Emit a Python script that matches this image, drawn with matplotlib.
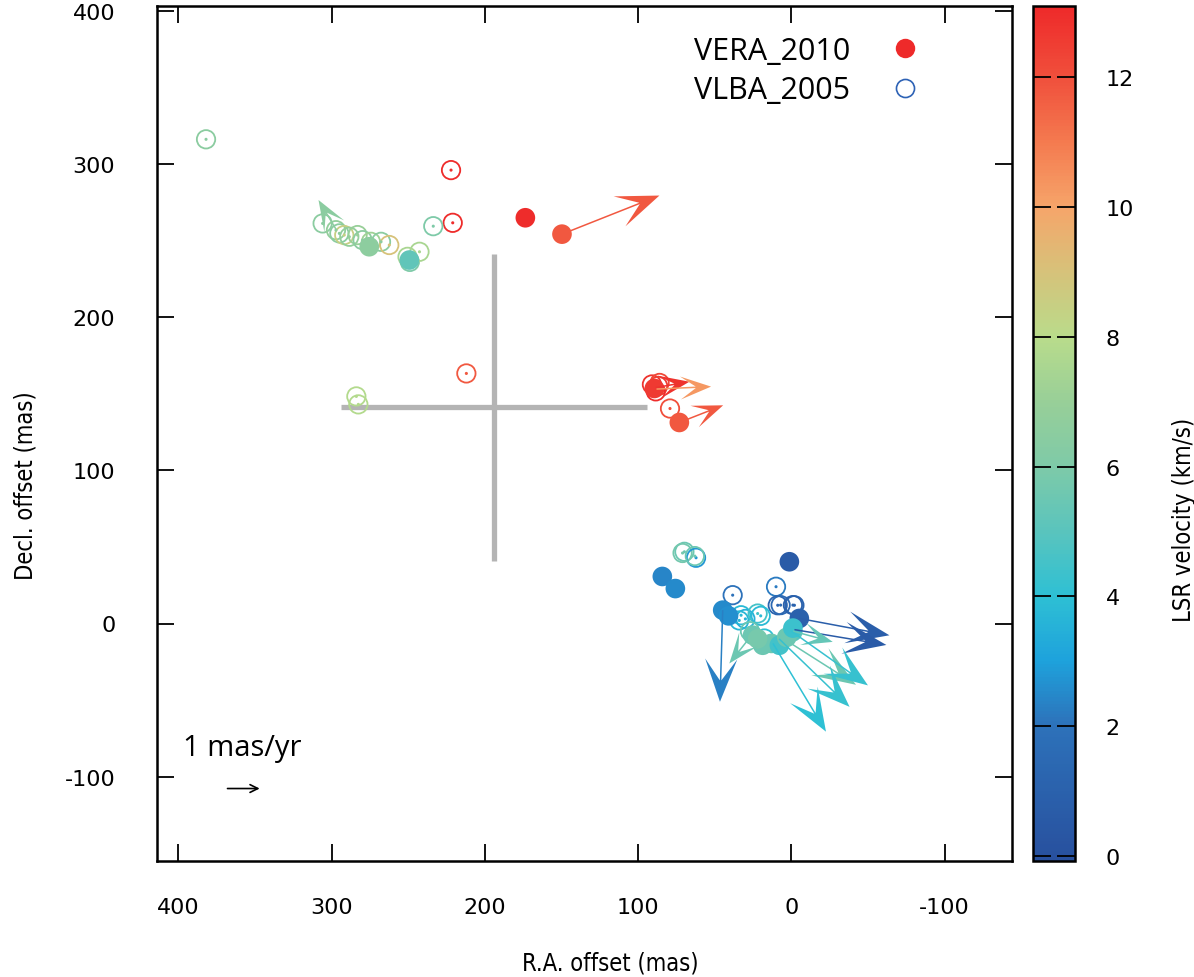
import numpy as np
import matplotlib
matplotlib.use("Agg")
import matplotlib.pyplot as plt
from matplotlib.colors import LinearSegmentedColormap, Normalize
from matplotlib.cm import ScalarMappable
from matplotlib.lines import Line2D

plt.rcParams["axes.unicode_minus"] = False

# VERA 2010 spots (filled): R.A. offset, Decl. offset (mas), LSR velocity (km/s)
vera_ra = [173.6, 149.7, 275.5, 249.3, 89.4, 73.1, 1.3, 84.2, 75.7, 44.8, 41.0,
           -5.2, 25.3, 18.7, 13.0, 7.8, -0.9, 3.0, 22.0, -1.0]
vera_dec = [264.8, 254.1, 245.9, 237.2, 153.4, 131.2, 40.3, 30.7, 22.8, 8.7, 5.0,
            3.3, -7.6, -14.2, -13.0, -14.2, -5.4, -9.0, -10.0, -3.0]
vera_v = [13.0, 11.8, 6.6, 5.2, 12.6, 11.8, 0.6, 2.4, 2.5, 2.5, 2.6,
          1.0, 5.5, 5.5, 5.5, 4.5, 5.0, 5.5, 5.8, 4.3]

# VLBA 2005 spots (open)
vlba_ra = [382.0, 222.1, 221.0, 233.7, 305.9, 297.2, 295.0, 291.8, 288.5, 283.1,
           279.8, 274.4, 267.8, 262.4, 250.5, 249.0, 242.7, 212.1, 283.9, 282.6,
           91.0, 87.0, 86.0, 88.5, 79.2, 69.8, 71.0, 62.2, 63.0, 38.3,
           10.0, 8.9, 7.0, -2.0, -1.0, 32.8, 30.0, 34.0, 22.0, 20.0, 17.6, 27.0]
vlba_dec = [316.0, 295.9, 261.5, 259.3, 261.1, 256.7, 254.6, 253.5, 252.4, 253.5,
            250.2, 249.1, 249.1, 247.0, 239.3, 236.0, 242.6, 163.2, 148.2, 143.0,
            156.0, 155.0, 157.0, 151.5, 140.3, 46.8, 46.0, 42.9, 44.0, 18.5,
            24.0, 11.9, 12.0, 11.9, 12.0, 5.4, 3.0, 2.0, 6.5, 5.0, -9.8, -5.0]
vlba_v = [6.5, 13.0, 13.0, 6.0, 6.5, 6.8, 6.5, 8.5, 6.8, 7.0,
          6.5, 7.2, 6.5, 9.0, 7.5, 6.0, 7.5, 11.8, 7.8, 7.8,
          12.8, 12.5, 12.2, 13.0, 12.0, 5.5, 5.7, 2.8, 5.5, 2.0,
          2.2, 1.2, 1.5, 1.2, 1.0, 3.8, 3.5, 3.7, 4.5, 3.8, 4.0, 5.5]

# proper motions: start position (mas), motion (mas/yr), velocity
pm_ra = [297.0, 149.7, 88.5, 88.0, 73.1, -5.2, -2.0, 44.8, 28.5, -1.0, 5.0, 0.0, 8.0, 12.0]
pm_dec = [257.0, 254.1, 154.0, 153.0, 131.2, 3.3, -4.0, 8.7, -10.9, -5.0, -10.0, -5.0, -10.0, -13.0]
pm_dra = [0.58, -3.18, -1.10, -1.78, -1.43, -2.94, -3.00, 0.09, 0.60, -1.30, -2.36, -2.50, -2.30, -1.73]
pm_ddec = [0.97, 1.26, 0.19, 0.08, 0.56, -0.55, -0.50, -2.99, -0.76, -0.35, -1.50, -1.77, -2.22, -2.88]
pm_v = [6.5, 11.8, 12.8, 10.3, 11.8, 0.8, 0.6, 2.3, 5.5, 5.3, 5.5, 4.2, 4.2, 4.0]

pm_scale = 20.0  # mas per (mas/yr)

# colour map (value, colour)
cmap_v = [0.0, 2.0, 3.0, 4.0, 5.0, 6.0, 7.0, 8.0, 9.0, 10.0, 11.0, 12.0, 13.1]
cmap_c = ["#28509e", "#2d72ba", "#1ea2dc", "#2ec0d4", "#5ac4bd", "#7ecaa8",
          "#98cf98", "#b9dc8b", "#d6c27a", "#f6a56a", "#f47b50", "#f0503c", "#ee2a2a"]
vmin, vmax = -0.08, 13.1
pos = [(v - vmin) / (vmax - vmin) for v in cmap_v]
pos[0] = 0.0
cmap = LinearSegmentedColormap.from_list("lsr", list(zip(pos, cmap_c)))
norm = Normalize(vmin=vmin, vmax=vmax)

tick_font = "DejaVu Sans"
text_font = ["Open Sans", "DejaVu Sans"]
label_kw = dict(fontsize=17, family="DejaVu Sans", fontstretch="condensed")

fig = plt.figure(figsize=(11.94, 9.78), dpi=100)
ax = fig.add_axes([157 / 1194, 1 - 862 / 978, 855 / 1194, 855 / 978])

# gray cross
ax.plot([294, 94], [141, 141], color="#b4b4b4", lw=3.8, solid_capstyle="butt", zorder=1)
ax.plot([194, 194], [41, 241], color="#b4b4b4", lw=3.8, solid_capstyle="butt", zorder=1)

# VLBA open circles with centre dot
ax.scatter(vlba_ra, vlba_dec, s=175, facecolors="none",
           edgecolors=cmap(norm(np.array(vlba_v))), linewidths=1.3, zorder=3)
ax.scatter(vlba_ra, vlba_dec, s=1.5, c=vlba_v, cmap=cmap, norm=norm, zorder=3)

# VERA filled circles
ax.scatter(vera_ra, vera_dec, s=200, c=vera_v, cmap=cmap, norm=norm,
           edgecolors="none", zorder=4)

# proper motion arrows
for x, y, dx, dy, v in zip(pm_ra, pm_dec, pm_dra, pm_ddec, pm_v):
    ux, uy = dx * pm_scale, dy * pm_scale
    L = np.hypot(ux, uy)
    hl = float(np.clip(0.5 * L, 20, 28))
    ax.arrow(x, y, ux, uy, width=1.0, head_width=0.75 * hl, head_length=hl,
             overhang=0.5, length_includes_head=True, color=cmap(norm(v)),
             lw=0, zorder=5)

# reference arrow
ax.annotate("", xy=(347, -107.7), xytext=(368, -107.7),
            arrowprops=dict(arrowstyle="->", color="black", lw=1.2,
                            mutation_scale=14, shrinkA=0, shrinkB=0))
ax.text(397, -81, "1 mas/yr", fontsize=21, family=text_font, ha="left", va="center")

ax.set_xlim(414, -144)
ax.set_ylim(-155, 403)
ax.set_xticks([400, 300, 200, 100, 0, -100])
ax.set_yticks([400, 300, 200, 100, 0, -100])
ax.tick_params(direction="in", length=12, width=1.3, top=True, right=True,
               labelsize=16)
ax.tick_params(axis="y", pad=30)
ax.tick_params(axis="x", pad=26)
for lab in ax.get_xticklabels() + ax.get_yticklabels():
    lab.set_family(tick_font)
for sp in ax.spines.values():
    sp.set_linewidth(1.8)
ax.set_xlabel("R.A. offset (mas)", **label_kw)
ax.set_ylabel("Decl. offset (mas)", **label_kw)
ax.xaxis.set_label_coords(0.53, -0.105)
ax.yaxis.set_label_coords(-0.14, 0.44)

# legend
handles = [
    Line2D([], [], ls="none", marker="o", markersize=14, markerfacecolor="#ee2a2a",
           markeredgecolor="none"),
    Line2D([], [], ls="none", marker="o", markersize=13, markerfacecolor="none",
           markeredgecolor="#2d62b5", markeredgewidth=1.2),
]
leg = ax.legend(handles, ["VERA_2010", "VLBA_2005"], loc="upper right",
                bbox_to_anchor=(0.943, 0.997), frameon=False, markerfirst=False,
                prop={"family": text_font, "size": 22}, handletextpad=0.8,
                labelspacing=0.3)

# colorbar
cax = fig.add_axes([1033 / 1194, 1 - 862 / 978, 42 / 1194, 855 / 978])
cb = fig.colorbar(ScalarMappable(norm=norm, cmap=cmap), cax=cax)
cb.set_ticks([0, 2, 4, 6, 8, 10, 12])
cb.outline.set_linewidth(1.8)
cax.tick_params(direction="in", length=13, width=1.3, left=True, right=True,
                labelsize=16, pad=22)
for lab in cax.get_yticklabels():
    lab.set_family(tick_font)
cb.set_label("LSR velocity (km/s)", **label_kw)
cax.yaxis.set_label_coords(3.3, 0.4)

fig.savefig("out.png", dpi=100)
